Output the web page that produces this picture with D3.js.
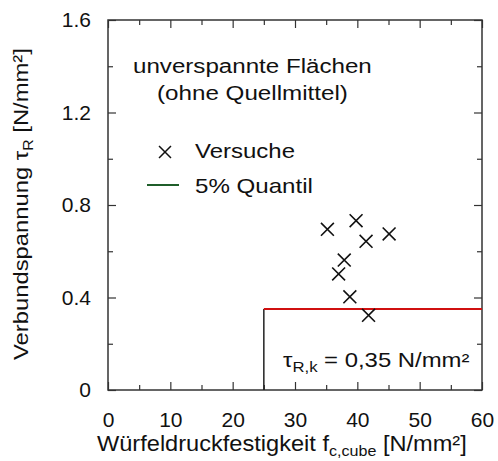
<!DOCTYPE html>
<html><head><meta charset="utf-8">
<script src="https://cdn.jsdelivr.net/npm/d3@7"></script>
<style>
body{margin:0;background:#fff;}
svg{display:block;font-family:"Liberation Sans",Arial,sans-serif;}
</style></head>
<body>
<svg id="c" width="498" height="461"></svg>
<script>
// data
const fcCube = [35.2, 39.8, 41.4, 45.1, 37.9, 37.0, 38.8, 41.8];
const tauR   = [0.695, 0.732, 0.643, 0.675, 0.562, 0.502, 0.403, 0.323];
const quantilValue = 0.35;
const quantilFrom = 25;
const quantilTo = 60;
const xTicks = [0, 10, 20, 30, 40, 50, 60];
const xMinor = [5, 15, 25, 35, 45, 55];
const yTicks = [0, 0.4, 0.8, 1.2, 1.6];
const yTickLabels = ["0", "0.4", "0.8", "1.2", "1.6"];
const yMinor = [0.2, 0.6, 1.0, 1.4];

const svg = d3.select("#c");
const L = 108, R = 482, T = 20, B = 390;
const x = d3.scaleLinear().domain([0, 60]).range([L, R]);
const y = d3.scaleLinear().domain([0, 1.6]).range([B, T]);
const axisColor = "#333";

function styleAxis(g){
  g.select(".domain").remove();
  g.selectAll(".tick line").attr("stroke", axisColor).attr("stroke-width", 1.2);
  g.selectAll(".tick text").attr("fill", "#111").attr("font-size", 21)
   .attr("font-family", '"Liberation Sans",Arial,sans-serif');
}
// bottom
svg.append("g").attr("transform", `translate(0,${B})`)
  .call(d3.axisBottom(x).tickValues(xTicks).tickSizeInner(-8).tickSizeOuter(0).tickPadding(22).tickFormat(d3.format("d")))
  .call(styleAxis);
svg.append("g").attr("transform", `translate(0,${B})`)
  .call(d3.axisBottom(x).tickValues(xMinor).tickSizeInner(-5).tickSizeOuter(0).tickFormat(""))
  .call(styleAxis);
// top
svg.append("g").attr("transform", `translate(0,${T})`)
  .call(d3.axisTop(x).tickValues(xTicks).tickSizeInner(-8).tickSizeOuter(0).tickFormat(""))
  .call(styleAxis);
svg.append("g").attr("transform", `translate(0,${T})`)
  .call(d3.axisTop(x).tickValues(xMinor).tickSizeInner(-5).tickSizeOuter(0).tickFormat(""))
  .call(styleAxis);
// left
svg.append("g").attr("transform", `translate(${L},0)`)
  .call(d3.axisLeft(y).tickValues(yTicks).tickSizeInner(-8).tickSizeOuter(0).tickPadding(17).tickFormat((d,i)=>yTickLabels[i]))
  .call(styleAxis);
svg.append("g").attr("transform", `translate(${L},0)`)
  .call(d3.axisLeft(y).tickValues(yMinor).tickSizeInner(-5).tickSizeOuter(0).tickFormat(""))
  .call(styleAxis);
// right
svg.append("g").attr("transform", `translate(${R},0)`)
  .call(d3.axisRight(y).tickValues(yTicks).tickSizeInner(-8).tickSizeOuter(0).tickFormat(""))
  .call(styleAxis);
svg.append("g").attr("transform", `translate(${R},0)`)
  .call(d3.axisRight(y).tickValues(yMinor).tickSizeInner(-5).tickSizeOuter(0).tickFormat(""))
  .call(styleAxis);

// frame
svg.append("rect").attr("x", L).attr("y", T).attr("width", R - L).attr("height", B - T)
  .attr("fill", "none").attr("stroke", axisColor).attr("stroke-width", 1.5);

// quantile
svg.append("line").attr("x1", x(quantilFrom)).attr("x2", x(quantilFrom))
  .attr("y1", y(0)).attr("y2", y(quantilValue)).attr("stroke", "#222").attr("stroke-width", 1.5);
svg.append("line").attr("x1", x(quantilFrom)).attr("x2", x(quantilTo))
  .attr("y1", y(quantilValue)).attr("y2", y(quantilValue)).attr("stroke", "#d01010").attr("stroke-width", 2);

// points
const sym = d3.symbol().type(d3.symbolTimes).size(110);
svg.append("g").selectAll("path").data(fcCube).join("path")
  .attr("d", sym)
  .attr("transform", (d, i) => `translate(${x(d)},${y(tauR[i])})`)
  .attr("fill", "none").attr("stroke", "#111").attr("stroke-width", 1.6);

// helper: stretch text horizontally to a target width, starting at x0
function fit(sel, x0, x1){
  const w = sel.node().getBBox().width;
  const k = (x1 - x0) / w;
  sel.attr("x", x0).attr("text-anchor", "start")
     .attr("transform", `translate(${x0},0) scale(${k},1) translate(${-x0},0)`);
}
const txt = (yy, s, size) => svg.append("text").attr("y", yy)
  .attr("font-size", size).attr("fill", "#111").text(s);

fit(txt(73, "unverspannte Flächen", 20), 133, 372);
fit(txt(100, "(ohne Quellmittel)", 20), 157, 348);

// legend
svg.append("path").attr("d", d3.symbol().type(d3.symbolTimes).size(95)())
  .attr("transform", "translate(165,152)").attr("fill", "none").attr("stroke", "#111").attr("stroke-width", 1.5);
fit(txt(158, "Versuche", 20), 195, 295);
svg.append("line").attr("x1", 147).attr("x2", 179).attr("y1", 185).attr("y2", 185)
  .attr("stroke", "#1f5e2a").attr("stroke-width", 2);
fit(txt(193, "5% Quantil", 20), 195, 313);

// annotation
const ann = svg.append("text").attr("y", 367).attr("font-size", 20).attr("fill", "#111");
ann.append("tspan").text("τ");
ann.append("tspan").attr("font-size", 14).attr("dy", 5).text("R,k");
ann.append("tspan").attr("dy", -5).text(" = 0,35 N/mm²");
fit(ann, 283, 470);

// x title
const xt = svg.append("text").attr("y", 451).attr("font-size", 22).attr("fill", "#111");
xt.append("tspan").text("Würfeldruckfestigkeit f");
xt.append("tspan").attr("font-size", 15).attr("dy", 5).text("c,cube");
xt.append("tspan").attr("dy", -5).text(" [N/mm²]");
fit(xt, 97, 467);

// y title
const ytG = svg.append("g").attr("transform", "translate(28,360) rotate(-90)");
const yt = ytG.append("text").attr("x", 0).attr("y", 0).attr("font-size", 21).attr("fill", "#111");
yt.append("tspan").text("Verbundspannung τ");
yt.append("tspan").attr("font-size", 14).attr("dy", 5).text("R");
yt.append("tspan").attr("dy", -5).text(" [N/mm²]");
const yw = yt.node().getBBox().width;
yt.attr("transform", `scale(${312 / yw},1)`);
</script>
</body></html>
